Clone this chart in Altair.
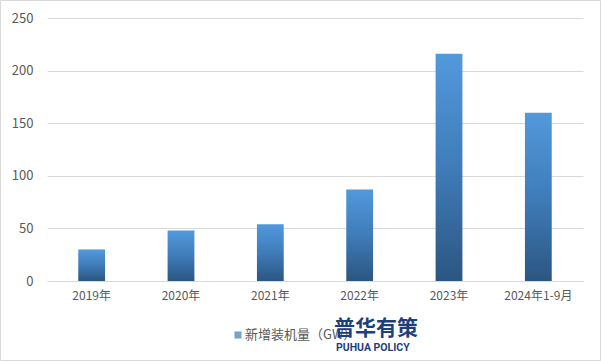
import altair as alt
import pandas as pd

categories = ["2019年", "2020年", "2021年", "2022年", "2023年", "2024年1-9月"]
values = [30, 48, 54, 87, 216, 160]
y_ticks = [0, 50, 100, 150, 200, 250]
legend_label = "新增装机量（GW）"

df = pd.DataFrame({"cat": categories, "val": values})

FONT = "Noto Sans CJK SC"
W, H = 536, 263
PL, PT, PR, PB = 47, 18, 18, 80

grad = alt.Gradient(
    gradient="linear",
    x1=0, y1=1, x2=0, y2=0,
    stops=[alt.GradientStop(color="#2b5681", offset=0),
           alt.GradientStop(color="#3f7cb9", offset=0.5),
           alt.GradientStop(color="#5299dc", offset=1)],
)

bars = alt.Chart(df).mark_bar(fill=grad).encode(
    x=alt.X("cat:N", sort=categories, title=None,
            scale=alt.Scale(paddingInner=0.7, paddingOuter=0.35),
            axis=alt.Axis(labelAngle=0, labelFont=FONT, labelFontSize=12,
                          labelColor="#595959", labelPadding=9, ticks=False,
                          domainColor="#d9d9d9", grid=False)),
    y=alt.Y("val:Q", title=None,
            scale=alt.Scale(domain=[0, 250]),
            axis=alt.Axis(values=y_ticks, labelFont=FONT, labelFontSize=13,
                          labelColor="#595959", labelPadding=14, ticks=False,
                          domain=False, gridColor="#d9d9d9")),
)

leg_df = pd.DataFrame({"label": [legend_label]})
leg_sq = alt.Chart(leg_df).mark_square(size=50, color="#3f7cb9").encode(
    x=alt.value(238 - PL), y=alt.value(335 - PT))
leg_txt = alt.Chart(leg_df).mark_text(align="left", baseline="middle", font=FONT,
                                      fontSize=13, color="#595959").encode(
    x=alt.value(245 - PL), y=alt.value(335 - PT), text="label:N")

wm1 = alt.Chart(pd.DataFrame({"t": ["普华有策"]})).mark_text(
    align="left", baseline="middle", font=FONT, fontSize=21, fontWeight="bold",
    color="#1f3f7c").encode(x=alt.value(334 - PL), y=alt.value(329 - PT), text="t:N")
wm2 = alt.Chart(pd.DataFrame({"t": ["PUHUA POLICY"]})).mark_text(
    align="left", baseline="middle", font="Roboto", fontSize=10.5, fontWeight="bold",
    color="#1f3f7c").encode(x=alt.value(336 - PL), y=alt.value(348 - PT), text="t:N")

frame = alt.Chart(leg_df).mark_rect(fill=None, stroke="#d9d9d9", strokeWidth=1).encode(
    x=alt.value(-PL + 0.5), x2=alt.value(W + PR - 0.5),
    y=alt.value(-PT + 0.5), y2=alt.value(H + PB - 0.5))

chart = alt.layer(bars, leg_sq, leg_txt, wm1, wm2, frame).properties(
    width=W, height=H,
    padding={"left": PL, "top": PT, "right": PR, "bottom": PB},
    autosize=alt.AutoSizeParams(type="none"),
    background="white",
).configure_view(stroke=None)

chart.save("out.html", embed_options={"renderer": "svg", "actions": False})
